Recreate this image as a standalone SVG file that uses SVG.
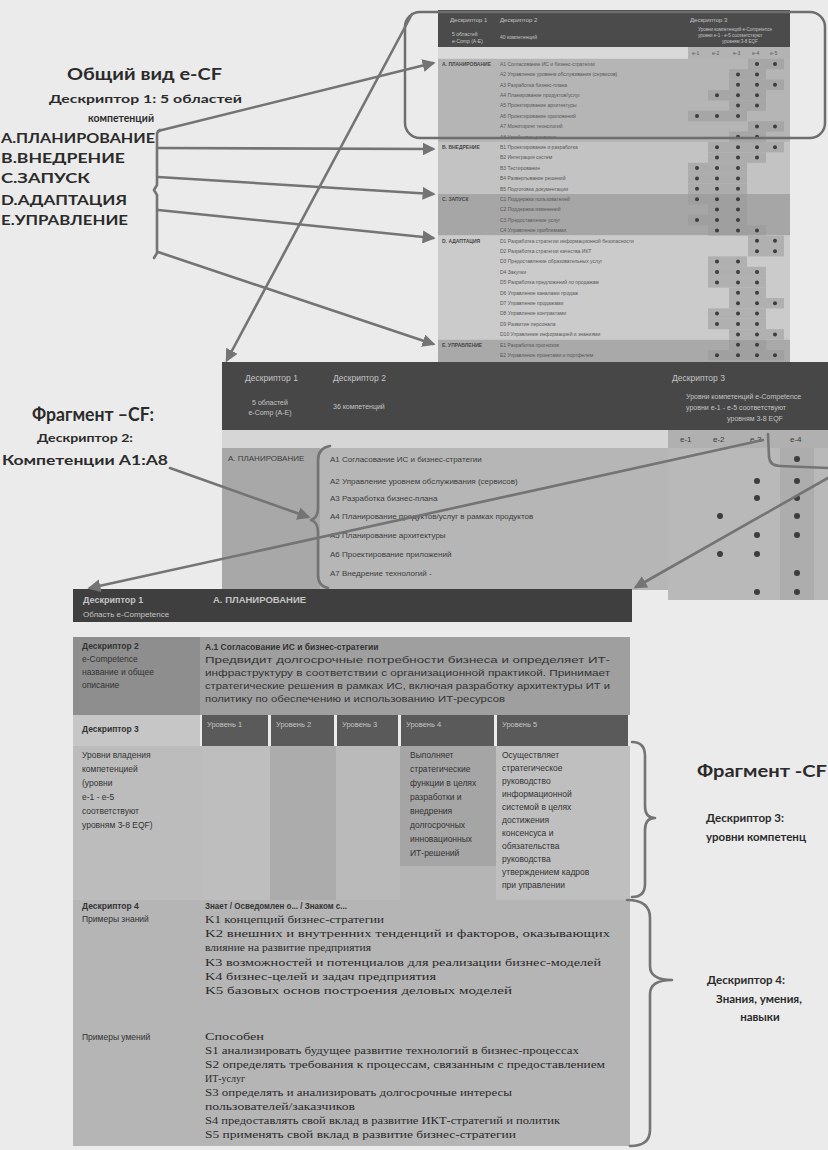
<svg xmlns="http://www.w3.org/2000/svg" width="828" height="1150" viewBox="0 0 828 1150">
<defs>
<style>
.lbl{font-family:Lato,"Liberation Sans",sans-serif;font-weight:bold;fill:#2b2b2b}
.tt{font-family:"Liberation Sans",sans-serif;font-size:5px;fill:#585858}
.ts{font-family:"Liberation Sans",sans-serif;font-size:5px;font-weight:bold;fill:#474747}
.th{font-family:"Liberation Sans",sans-serif;fill:#c4c4c4}
.mt{font-family:"Liberation Sans",sans-serif;font-size:8px;fill:#3c3c3c}
.bt{font-family:"Liberation Sans",sans-serif;font-size:8.5px;fill:#333}
.ser{font-family:"Liberation Serif",serif;font-size:9.5px;fill:#2a2a2a}
.conn{stroke:#747474;stroke-width:2.6;fill:none;stroke-linecap:round;stroke-linejoin:round}
.dot{fill:#3d3d3d}
.sh{fill:#9a9a9a;opacity:.55}
</style>
<marker id="ah" viewBox="0 0 10 10" refX="8" refY="5" markerWidth="5" markerHeight="5" orient="auto" markerUnits="strokeWidth"><path d="M0,0 L10,5 L0,10 z" fill="#747474"/></marker>
</defs>
<rect width="828" height="1150" fill="#ebebeb"/>

<!-- Overview labels -->
<g id="overview-labels">
<text class="lbl" x="67" y="80" font-size="17" textLength="155" lengthAdjust="spacingAndGlyphs">Общий вид e-CF</text>
<text class="lbl" x="49" y="103" font-size="12" textLength="193" lengthAdjust="spacingAndGlyphs">Дескриптор 1: 5 областей</text>
<text class="lbl" x="88" y="122" font-size="11.5" textLength="66" lengthAdjust="spacingAndGlyphs">компетенций</text>
<text class="lbl" x="1" y="143" font-size="12.5" textLength="154" lengthAdjust="spacingAndGlyphs">A.ПЛАНИРОВАНИЕ</text>
<text class="lbl" x="1" y="163" font-size="12.5" textLength="124" lengthAdjust="spacingAndGlyphs">B.ВНЕДРЕНИЕ</text>
<text class="lbl" x="1" y="183" font-size="12.5" textLength="89" lengthAdjust="spacingAndGlyphs">C.ЗАПУСК</text>
<text class="lbl" x="1" y="205" font-size="12.5" textLength="126" lengthAdjust="spacingAndGlyphs">D.АДАПТАЦИЯ</text>
<text class="lbl" x="1" y="225" font-size="12.5" textLength="127" lengthAdjust="spacingAndGlyphs">E.УПРАВЛЕНИЕ</text>
</g>

<!-- Overview table (e-CF) -->
<g id="overview-table">
<rect x="438" y="10" width="352" height="37" fill="#4b4b4b"/>
<text class="th" x="450" y="22" font-size="6">Дескриптор 1</text>
<text class="th" x="500" y="22" font-size="6">Дескриптор 2</text>
<text class="th" x="690" y="22" font-size="6">Дескриптор 3</text>
<text class="th" x="452" y="36" font-size="5">5 областей</text>
<text class="th" x="452" y="43" font-size="5">e-Comp (A-E)</text>
<text class="th" x="500" y="39" font-size="5">40 компетенций</text>
<text class="th" x="698" y="31" font-size="4.5">Уровни компетенций e-Competence</text>
<text class="th" x="698" y="37" font-size="4.5">уровни e-1 - e-5 соответствуют</text>
<text class="th" x="722" y="43" font-size="4.5">уровням 3-8 EQF</text>
<rect x="438" y="47" width="352" height="12" fill="#d9d9d9"/>
<rect x="688" y="47" width="102" height="12" fill="#b3b3b3"/>
<g class="tt"><text x="692" y="55">e-1</text><text x="712" y="55">e-2</text><text x="733" y="55">e-3</text><text x="752" y="55">e-4</text><text x="770" y="55">e-5</text></g>
<rect x="438" y="58.8" width="352" height="83.2" fill="#b5b5b5"/>
<rect x="438" y="142" width="352" height="52" fill="#c3c3c3"/>
<rect x="438" y="194" width="352" height="41.6" fill="#a6a6a6"/>
<rect x="438" y="235.6" width="352" height="104" fill="#cbcbcb"/>
<rect x="438" y="339.6" width="352" height="22.4" fill="#a9a9a9"/>
<g class="ts">
<text x="442" y="65.8">A. ПЛАНИРОВАНИЕ</text>
<text x="442" y="149">B. ВНЕДРЕНИЕ</text>
<text x="442" y="201">C. ЗАПУСК</text>
<text x="442" y="242.6">D. АДАПТАЦИЯ</text>
<text x="442" y="346.6">E. УПРАВЛЕНИЕ</text>
</g>
<g class="tt">
<text x="500" y="65.8">A1 Согласование ИС и бизнес-стратегии</text>
<text x="500" y="76.2">A2 Управление уровнем обслуживания (сервисов)</text>
<text x="500" y="86.6">A3 Разработка бизнес-плана</text>
<text x="500" y="97">A4 Планирование продуктов/услуг</text>
<text x="500" y="107.4">A5 Проектирование архитектуры</text>
<text x="500" y="117.8">A6 Проектирование приложений</text>
<text x="500" y="128.2">A7 Мониторинг технологий</text>
<text x="500" y="138.6">A8 Устойчивое развитие</text>
<text x="500" y="149">B1 Проектирование и разработка</text>
<text x="500" y="159.4">B2 Интеграция систем</text>
<text x="500" y="169.8">B3 Тестирование</text>
<text x="500" y="180.2">B4 Развертывание решений</text>
<text x="500" y="190.6">B5 Подготовка документации</text>
<text x="500" y="201">C1 Поддержка пользователей</text>
<text x="500" y="211.4">C2 Поддержка изменений</text>
<text x="500" y="221.8">C3 Предоставление услуг</text>
<text x="500" y="232.2">C4 Управление проблемами</text>
<text x="500" y="242.6">D1 Разработка стратегии информационной безопасности</text>
<text x="500" y="253">D2 Разработка стратегии качества ИКТ</text>
<text x="500" y="263.4">D3 Предоставление образовательных услуг</text>
<text x="500" y="273.8">D4 Закупки</text>
<text x="500" y="284.2">D5 Разработка предложений по продажам</text>
<text x="500" y="294.6">D6 Управление каналами продаж</text>
<text x="500" y="305">D7 Управление продажами</text>
<text x="500" y="315.4">D8 Управление контрактами</text>
<text x="500" y="325.8">D9 Развитие персонала</text>
<text x="500" y="336.2">D10 Управление информацией и знаниями</text>
<text x="500" y="346.6">E1 Разработка прогнозов</text>
<text x="500" y="357">E2 Управление проектами и портфелем</text>
</g>
<g class="sh">
<rect x="748" y="58.8" width="36" height="10.4"/>
<rect x="729" y="69.2" width="37" height="10.4"/>
<rect x="729" y="79.6" width="55" height="10.4"/>
<rect x="708" y="90" width="58" height="10.4"/>
<rect x="729" y="100.4" width="37" height="10.4"/>
<rect x="688" y="110.8" width="59" height="10.4"/>
<rect x="748" y="121.2" width="36" height="10.4"/>
<rect x="729" y="131.6" width="37" height="10.4"/>
<rect x="708" y="142" width="76" height="10.4"/>
<rect x="708" y="152.4" width="58" height="10.4"/>
<rect x="688" y="162.8" width="59" height="10.4"/>
<rect x="688" y="173.2" width="59" height="10.4"/>
<rect x="688" y="183.6" width="59" height="10.4"/>
<rect x="688" y="194" width="59" height="10.4"/>
<rect x="708" y="204.4" width="39" height="10.4"/>
<rect x="688" y="214.8" width="59" height="10.4"/>
<rect x="708" y="225.2" width="58" height="10.4"/>
<rect x="748" y="235.6" width="36" height="10.4"/>
<rect x="748" y="246" width="36" height="10.4"/>
<rect x="708" y="256.4" width="39" height="10.4"/>
<rect x="708" y="266.8" width="58" height="10.4"/>
<rect x="708" y="277.2" width="58" height="10.4"/>
<rect x="729" y="287.6" width="37" height="10.4"/>
<rect x="729" y="298" width="55" height="10.4"/>
<rect x="708" y="308.4" width="58" height="10.4"/>
<rect x="708" y="318.8" width="58" height="10.4"/>
<rect x="729" y="329.2" width="55" height="10.4"/>
<rect x="729" y="339.6" width="37" height="10.4"/>
<rect x="708" y="350" width="76" height="10.4"/>
</g>
<g class="dot">
<circle cx="757" cy="64" r="2"/><circle cx="775" cy="64" r="2"/>
<circle cx="738" cy="74.4" r="2"/><circle cx="757" cy="74.4" r="2"/>
<circle cx="738" cy="84.8" r="2"/><circle cx="757" cy="84.8" r="2"/><circle cx="775" cy="84.8" r="2"/>
<circle cx="717" cy="95.2" r="2"/><circle cx="738" cy="95.2" r="2"/><circle cx="757" cy="95.2" r="2"/>
<circle cx="738" cy="105.6" r="2"/><circle cx="757" cy="105.6" r="2"/>
<circle cx="697" cy="116" r="2"/><circle cx="717" cy="116" r="2"/><circle cx="738" cy="116" r="2"/>
<circle cx="757" cy="126.4" r="2"/><circle cx="775" cy="126.4" r="2"/>
<circle cx="738" cy="136.8" r="2"/><circle cx="757" cy="136.8" r="2"/>
<circle cx="717" cy="147.2" r="2"/><circle cx="738" cy="147.2" r="2"/><circle cx="757" cy="147.2" r="2"/><circle cx="775" cy="147.2" r="2"/>
<circle cx="717" cy="157.6" r="2"/><circle cx="738" cy="157.6" r="2"/><circle cx="757" cy="157.6" r="2"/>
<circle cx="697" cy="168" r="2"/><circle cx="717" cy="168" r="2"/><circle cx="738" cy="168" r="2"/>
<circle cx="697" cy="178.4" r="2"/><circle cx="717" cy="178.4" r="2"/><circle cx="738" cy="178.4" r="2"/>
<circle cx="697" cy="188.8" r="2"/><circle cx="717" cy="188.8" r="2"/><circle cx="738" cy="188.8" r="2"/>
<circle cx="697" cy="199.2" r="2"/><circle cx="717" cy="199.2" r="2"/><circle cx="738" cy="199.2" r="2"/>
<circle cx="717" cy="209.6" r="2"/><circle cx="738" cy="209.6" r="2"/>
<circle cx="697" cy="220" r="2"/><circle cx="717" cy="220" r="2"/><circle cx="738" cy="220" r="2"/>
<circle cx="717" cy="230.4" r="2"/><circle cx="738" cy="230.4" r="2"/><circle cx="757" cy="230.4" r="2"/>
<circle cx="757" cy="240.8" r="2"/><circle cx="775" cy="240.8" r="2"/>
<circle cx="757" cy="251.2" r="2"/><circle cx="775" cy="251.2" r="2"/>
<circle cx="717" cy="261.6" r="2"/><circle cx="738" cy="261.6" r="2"/>
<circle cx="717" cy="272" r="2"/><circle cx="738" cy="272" r="2"/><circle cx="757" cy="272" r="2"/>
<circle cx="717" cy="282.4" r="2"/><circle cx="738" cy="282.4" r="2"/><circle cx="757" cy="282.4" r="2"/>
<circle cx="738" cy="292.8" r="2"/><circle cx="757" cy="292.8" r="2"/>
<circle cx="738" cy="303.2" r="2"/><circle cx="757" cy="303.2" r="2"/><circle cx="775" cy="303.2" r="2"/>
<circle cx="717" cy="313.6" r="2"/><circle cx="738" cy="313.6" r="2"/><circle cx="757" cy="313.6" r="2"/>
<circle cx="717" cy="324" r="2"/><circle cx="738" cy="324" r="2"/><circle cx="757" cy="324" r="2"/>
<circle cx="738" cy="334.4" r="2"/><circle cx="757" cy="334.4" r="2"/><circle cx="775" cy="334.4" r="2"/>
<circle cx="738" cy="344.8" r="2"/><circle cx="757" cy="344.8" r="2"/>
<circle cx="717" cy="355.2" r="2"/><circle cx="738" cy="355.2" r="2"/><circle cx="757" cy="355.2" r="2"/><circle cx="775" cy="355.2" r="2"/>
</g>
</g>

<!-- Highlight frame around row A in overview -->
<g id="highlight-frame">
<rect x="405" y="12" width="420" height="126" rx="15" fill="none" stroke="#6e6e6e" stroke-width="2.5"/>
</g>

<!-- Middle fragment table -->
<g id="fragment-table">
<rect x="222" y="362" width="606" height="68" fill="#474747"/>
<text class="th" x="245" y="381" font-size="8.5">Дескриптор 1</text>
<text class="th" x="333" y="381" font-size="8.5">Дескриптор 2</text>
<text class="th" x="672" y="381" font-size="8.5">Дескриптор 3</text>
<text class="th" x="270" y="405" font-size="7" text-anchor="middle">5 областей</text>
<text class="th" x="270" y="415" font-size="7" text-anchor="middle">e-Comp (A-E)</text>
<text class="th" x="333" y="409" font-size="7">36 компетенций</text>
<text class="th" x="686" y="399" font-size="7">Уровни компетенций e-Competence</text>
<text class="th" x="686" y="410" font-size="7">уровни e-1 - e-5 соответствуют</text>
<text class="th" x="755" y="421" font-size="7" text-anchor="middle">уровням 3-8 EQF</text>
<rect x="222" y="430" width="446" height="18" fill="#d6d6d6"/>
<rect x="668" y="430" width="160" height="18" fill="#b0b0b0"/>
<g class="mt" font-size="7"><text x="680" y="442">e-1</text><text x="713" y="442">e-2</text><text x="750" y="442">e-3</text><text x="790" y="442">e-4</text></g>
<rect x="222" y="448" width="98" height="142" fill="#a8a8a8"/>
<rect x="320" y="448" width="348" height="142" fill="#b6b6b6"/>
<rect x="668" y="448" width="160" height="152" fill="#b9b9b9"/>
<rect x="780" y="448" width="34" height="152" fill="#adadad"/>
<text class="mt" x="228" y="461" font-size="7.5">A. ПЛАНИРОВАНИЕ</text>
<text class="mt" x="330" y="462">A1 Согласование ИС и бизнес-стратегии</text>
<text class="mt" x="330" y="484">A2 Управление уровнем обслуживания (сервисов)</text>
<text class="mt" x="330" y="501">A3 Разработка бизнес-плана</text>
<text class="mt" x="330" y="519">A4 Планирование продуктов/услуг в рамках продуктов</text>
<text class="mt" x="330" y="538">A5 Планирование архитектуры</text>
<text class="mt" x="330" y="557">A6 Проектирование приложений</text>
<text class="mt" x="330" y="576">A7 Внедрение технологий -</text>
<g class="dot">
<circle cx="797" cy="459" r="3"/>
<circle cx="757" cy="481" r="3"/><circle cx="797" cy="481" r="3"/>
<circle cx="757" cy="498" r="3"/><circle cx="797" cy="498" r="3"/>
<circle cx="720" cy="516" r="3"/><circle cx="797" cy="516" r="3"/>
<circle cx="757" cy="535" r="3"/><circle cx="797" cy="535" r="3"/>
<circle cx="720" cy="554" r="3"/><circle cx="757" cy="554" r="3"/>
<circle cx="797" cy="573" r="3"/>
<circle cx="757" cy="592" r="3"/><circle cx="797" cy="592" r="3"/>
</g>
</g>

<!-- Fragment labels left -->
<g id="fragment-labels">
<text class="lbl" x="32" y="421" font-size="19" textLength="122" lengthAdjust="spacingAndGlyphs">Фрагмент –CF:</text>
<text class="lbl" x="37" y="442" font-size="12" textLength="96" lengthAdjust="spacingAndGlyphs">Дескриптор 2:</text>
<text class="lbl" x="2" y="465" font-size="12.5" textLength="166" lengthAdjust="spacingAndGlyphs">Компетенции  A1:A8</text>
</g>

<!-- Bottom detail table -->
<g id="detail-table">
<rect x="73" y="589" width="559" height="33" fill="#3f3f3f"/>
<text class="th" x="83" y="603" font-size="9" font-weight="bold" fill="#dcdcdc">Дескриптор 1</text>
<text class="th" x="83" y="617" font-size="8" fill="#b0b0b0">Область e-Competence</text>
<text class="th" x="213" y="603" font-size="9.5" font-weight="bold" fill="#e8e8e8">A. ПЛАНИРОВАНИЕ</text>
<rect x="73" y="637" width="127" height="78" fill="#8e8e8e"/>
<rect x="200" y="637" width="430" height="78" fill="#9f9f9f"/>
<text class="bt" x="82" y="649" font-weight="bold">Дескриптор 2</text>
<text class="bt" x="82" y="662">e-Competence</text>
<text class="bt" x="82" y="675">название и общее</text>
<text class="bt" x="82" y="688">описание</text>
<text class="bt" x="205" y="650" font-weight="bold">A.1 Согласование ИС и бизнес-стратегии</text>
<g class="bt" font-size="7.5" fill="#3a3a3a">
<text x="205" y="663" textLength="405" lengthAdjust="spacingAndGlyphs">Предвидит долгосрочные потребности бизнеса и определяет ИТ-</text>
<text x="205" y="676" textLength="405" lengthAdjust="spacingAndGlyphs">инфраструктуру в соответствии с организационной практикой. Принимает</text>
<text x="205" y="689" textLength="405" lengthAdjust="spacingAndGlyphs">стратегические решения в рамках ИС, включая разработку архитектуры ИТ и</text>
<text x="205" y="702" textLength="300" lengthAdjust="spacingAndGlyphs">политику по обеспечению и использованию ИТ-ресурсов</text>
</g>
<rect x="73" y="715" width="127" height="31" fill="#c6c6c6"/>
<text class="bt" x="82" y="732" font-weight="bold">Дескриптор 3</text>
<g fill="#5a5a5a">
<rect x="202" y="715" width="66" height="31"/>
<rect x="271" y="715" width="63" height="31"/>
<rect x="337" y="715" width="61" height="31"/>
<rect x="401" y="715" width="93" height="31"/>
<rect x="497" y="715" width="131" height="31"/>
</g>
<g class="th" font-size="7.5" fill="#d0d0d0">
<text x="207" y="727">Уровень 1</text>
<text x="276" y="727">Уровень 2</text>
<text x="342" y="727">Уровень 3</text>
<text x="406" y="727">Уровень 4</text>
<text x="502" y="727">Уровень 5</text>
</g>
<rect x="73" y="746" width="557" height="400" fill="#b5b5b5"/>
<rect x="73" y="746" width="129" height="154" fill="#bcbcbc"/>
<rect x="202" y="746" width="68" height="154" fill="#bebebe"/>
<rect x="270" y="746" width="66" height="154" fill="#acacac"/>
<rect x="336" y="746" width="64" height="154" fill="#bababa"/>
<rect x="400" y="746" width="96" height="120" fill="#a5a5a5"/>
<rect x="496" y="746" width="134" height="154" fill="#bfbfbf"/>
<g class="bt" font-size="7.5">
<text x="82" y="758">Уровни владения</text>
<text x="82" y="772">компетенцией</text>
<text x="82" y="786">(уровни</text>
<text x="82" y="800">e-1 - e-5</text>
<text x="82" y="814">соответствуют</text>
<text x="82" y="828">уровням 3-8 EQF)</text>
<text x="410" y="758">Выполняет</text>
<text x="410" y="772">стратегические</text>
<text x="410" y="786">функции в целях</text>
<text x="410" y="800">разработки и</text>
<text x="410" y="814">внедрения</text>
<text x="410" y="828">долгосрочных</text>
<text x="410" y="842">инновационных</text>
<text x="410" y="856">ИТ-решений</text>
<text x="502" y="758">Осуществляет</text>
<text x="502" y="771">стратегическое</text>
<text x="502" y="784">руководство</text>
<text x="502" y="797">информационной</text>
<text x="502" y="810">системой в целях</text>
<text x="502" y="823">достижения</text>
<text x="502" y="836">консенсуса и</text>
<text x="502" y="849">обязательства</text>
<text x="502" y="862">руководства</text>
<text x="502" y="875">утверждением кадров</text>
<text x="502" y="888">при управлении</text>
</g>
<text class="bt" x="82" y="909" font-weight="bold">Дескриптор 4</text>
<text class="bt" x="82" y="922">Примеры знаний</text>
<text class="bt" x="205" y="909" font-weight="bold" textLength="142" lengthAdjust="spacingAndGlyphs">Знает / Осведомлен о... / Знаком с...</text>
<g class="ser">
<text x="205" y="923" textLength="179" lengthAdjust="spacingAndGlyphs">K1 концепций бизнес-стратегии</text>
<text x="205" y="937" textLength="405" lengthAdjust="spacingAndGlyphs">K2 внешних и внутренних тенденций и факторов, оказывающих</text>
<text x="205" y="951" textLength="166" lengthAdjust="spacingAndGlyphs">влияние на развитие предприятия</text>
<text x="205" y="966" textLength="396" lengthAdjust="spacingAndGlyphs">K3 возможностей и потенциалов для реализации бизнес-моделей</text>
<text x="205" y="980" textLength="231" lengthAdjust="spacingAndGlyphs">K4 бизнес-целей и задач предприятия</text>
<text x="205" y="994" textLength="307" lengthAdjust="spacingAndGlyphs">K5 базовых основ построения деловых моделей</text>
</g>
<text class="bt" x="82" y="1040">Примеры умений</text>
<g class="ser">
<text x="205" y="1040" textLength="59" lengthAdjust="spacingAndGlyphs">Способен</text>
<text x="205" y="1054" textLength="374" lengthAdjust="spacingAndGlyphs">S1 анализировать будущее развитие технологий в бизнес-процессах</text>
<text x="205" y="1068" textLength="400" lengthAdjust="spacingAndGlyphs">S2 определять требования к процессам, связанным с предоставлением</text>
<text x="205" y="1082" textLength="40" lengthAdjust="spacingAndGlyphs">ИТ-услуг</text>
<text x="205" y="1096" textLength="307" lengthAdjust="spacingAndGlyphs">S3 определять и анализировать долгосрочные интересы</text>
<text x="205" y="1110" textLength="150" lengthAdjust="spacingAndGlyphs">пользователей/заказчиков</text>
<text x="205" y="1124" textLength="355" lengthAdjust="spacingAndGlyphs">S4 предоставлять свой вклад в развитие ИКТ-стратегий и политик</text>
<text x="205" y="1138" textLength="311" lengthAdjust="spacingAndGlyphs">S5 применять свой вклад в развитие бизнес-стратегии</text>
</g>
</g>

<!-- Right labels -->
<g id="right-labels">
<text class="lbl" x="697" y="777" font-size="17" textLength="130" lengthAdjust="spacingAndGlyphs">Фрагмент -CF</text>
<text class="lbl" x="745" y="822" font-size="11.5" text-anchor="middle">Дескриптор 3:</text>
<text class="lbl" x="756" y="841" font-size="11.5" text-anchor="middle">уровни компетенц</text>
<text class="lbl" x="746" y="984" font-size="11.5" text-anchor="middle">Дескриптор 4:</text>
<text class="lbl" x="759" y="1003" font-size="11.5" text-anchor="middle">Знания, умения,</text>
<text class="lbl" x="760" y="1021" font-size="11.5" text-anchor="middle">навыки</text>
</g>

<!-- Connectors -->
<g id="connectors">
<path class="conn" d="M160,130 L157,133 L157,185 L154,190 L157,195 L157,253 L154,258"/>
<path class="conn" d="M158,131 L433,63" marker-end="url(#ah)"/>
<path class="conn" d="M158,148 L433,149" marker-end="url(#ah)"/>
<path class="conn" d="M158,177 L433,194" marker-end="url(#ah)"/>
<path class="conn" d="M158,210 L433,238" marker-end="url(#ah)"/>
<path class="conn" d="M158,252 L433,344" marker-end="url(#ah)"/>
<path class="conn" d="M412,14 L227,360" marker-end="url(#ah)"/>
<path class="conn" d="M170,468 L308,517" marker-end="url(#ah)"/>
<path class="conn" d="M330,446 Q318,448 318,460 L318,508 Q318,518 311,520 Q318,522 318,532 L318,575 Q318,586 328,588"/>
<path class="conn" d="M763,440 L90,588" marker-end="url(#ah)"/>
<path class="conn" d="M828,478 L636,587" marker-end="url(#ah)"/>
<path class="conn" d="M768,434 L769,457 Q770,466 780,466 L828,468"/>
<path class="conn" d="M632,742 Q645,742 645,756 L645,806 Q645,818 655,818 Q645,818 645,830 L645,884 Q645,897 632,897"/>
<path class="conn" d="M627,900 Q650,900 650,918 L650,966 Q650,980 672,980 Q650,980 650,994 L650,1130 Q650,1146 630,1146"/>
</g>
</svg>
